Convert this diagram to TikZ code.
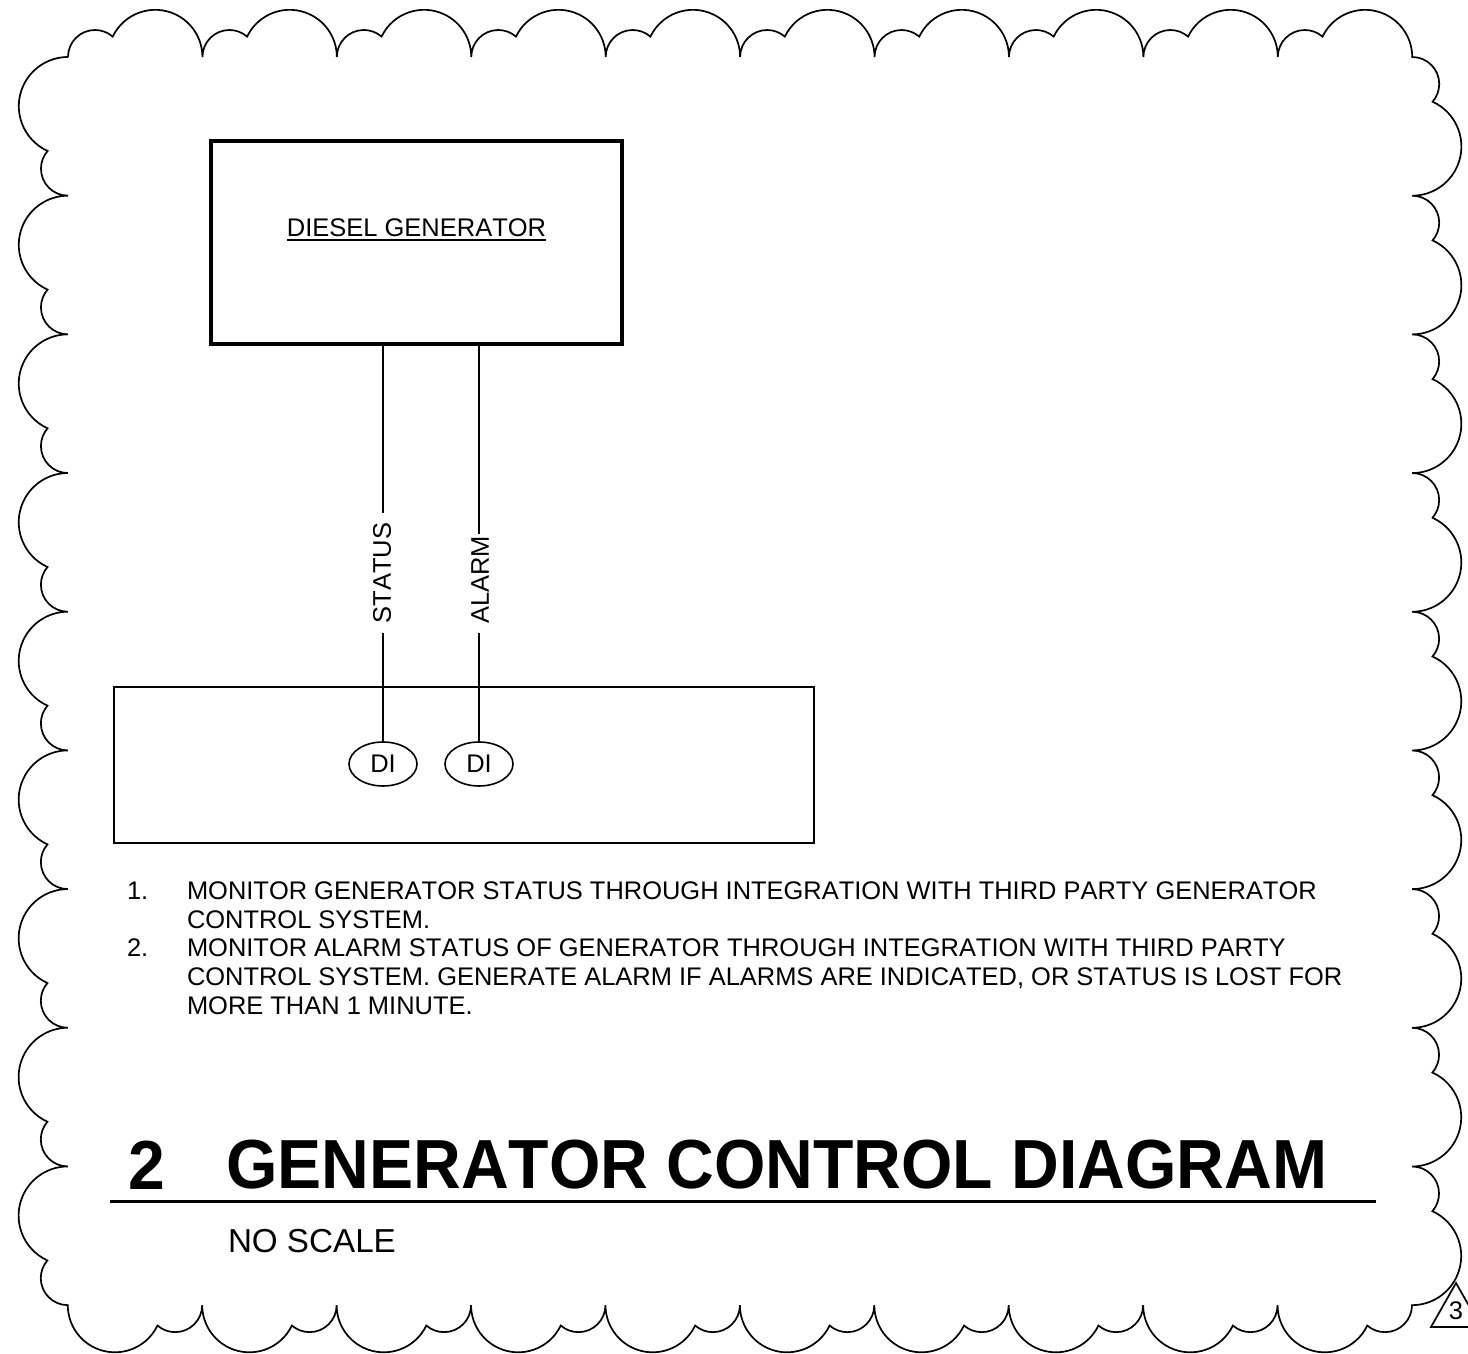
\documentclass[tikz,border=0pt]{standalone}
\usepackage{fontspec}
\setmainfont[Kerning=Off]{Liberation Sans}
\newfontfamily\titlefont[Kerning=Off,FakeStretch=0.951,BoldFont={Liberation Sans Bold}]{Liberation Sans}
\usetikzlibrary{shapes.geometric}
\tikzset{
  x=1pt,y=1pt,
  every node/.style={inner sep=0pt,outer sep=0pt},
  cloudline/.style={line width=1.7pt,line join=miter,black},
  wire/.style={line width=1.6pt,black},
  heavybox/.style={draw,line width=3.9pt,minimum width=411pt,minimum height=203pt,anchor=north west},
  lightbox/.style={draw,line width=1.6pt,minimum width=700pt,minimum height=156pt,anchor=north west},
  dipoint/.style={ellipse,draw,line width=1.6pt,minimum width=68pt,minimum height=44pt,font=\fontsize{25.5}{28}\selectfont},
  labeltext/.style={font=\fontsize{25.5}{28}\selectfont},
  notetext/.style={font=\fontsize{25.45}{28.8}\selectfont,align=left,anchor=north west},
  titletext/.style={anchor=base west,font=\titlefont\fontsize{69.5}{72}\selectfont\bfseries},
}
\begin{document}
\begin{tikzpicture}
\useasboundingbox (0,0) rectangle (1468,1353);
\clip (0,0) rectangle (1468,1353);
% revision cloud
\draw[cloudline] (68,1296)
  \foreach \i in {1,...,10}{ arc[start angle=180,end angle=49,radius=27pt] arc[start angle=154.4,end angle=0,radius=47.17pt] }
  \foreach \i in {1,...,9}{ arc[start angle=90,end angle=-41,radius=27pt] arc[start angle=65.5,end angle=-90,radius=49.2pt] }
  \foreach \i in {1,...,10}{ arc[start angle=0,end angle=-131,radius=27pt] arc[start angle=-25.6,end angle=-180,radius=47.17pt] }
  \foreach \i in {1,...,9}{ arc[start angle=-90,end angle=-221,radius=27pt] arc[start angle=-114.5,end angle=-270,radius=49.2pt] };
% boxes
\node[heavybox] (dg) at (211,1212) {};
\node[labeltext] (dgt) at (416.5,1125) {DIESEL GENERATOR};
\draw[line width=1.7pt] ([yshift=-3pt]dgt.south west) -- ([yshift=-3pt]dgt.south east);
\node[lightbox] (plc) at (114,666) {};
\node[dipoint] (di1) at (383,589) {DI};
\node[dipoint] (di2) at (479,589) {DI};
% signal labels
\node[labeltext,rotate=90] (st) at (382,780) {STATUS};
\node[labeltext,rotate=90] (al) at (480,773) {ALARM};
\coordinate (stA) at (383,840);
\coordinate (stB) at (383,720);
\coordinate (alA) at (479,819);
\coordinate (alB) at (479,720);
\draw[wire] (di1.north |- dg.south) -- (stA);
\draw[wire] (stB) -- (di1.north);
\draw[wire] (di2.north |- dg.south) -- (alA);
\draw[wire] (alB) -- (di2.north);
% notes
\node[notetext] (n1) at (127,471.5) {1.};
\node[notetext] (n2) at (127,413.9) {2.};
\node[notetext] (body) at (187,471.5) {MONITOR GENERATOR STATUS THROUGH INTEGRATION WITH THIRD PARTY GENERATOR\\
CONTROL SYSTEM.\\
MONITOR ALARM STATUS OF GENERATOR THROUGH INTEGRATION WITH THIRD PARTY\\
CONTROL SYSTEM. GENERATE ALARM IF ALARMS ARE INDICATED, OR STATUS IS LOST FOR\\
MORE THAN 1 MINUTE.};
% title block
\node[titletext] (tn) at (128,163) {2};
\node[titletext] (tt) at (226,164) {GENERATOR CONTROL DIAGRAM};
\coordinate (rl) at (110,151);
\coordinate (rr) at (1376,151);
\draw[line width=3pt] (rl) -- (rr);
\node[anchor=base west,font=\fontsize{33.2}{36}\selectfont] (ns) at (228,100) {NO SCALE};
% revision triangle
\coordinate (ta) at (1456,70);
\coordinate (tb) at (1431,26);
\coordinate (tc) at (1481,26);
\draw[line width=1.7pt,line join=miter] (ta) -- (tb) -- (tc) -- cycle;
\node[font=\fontsize{25.5}{28}\selectfont] (rev) at (1456,42) {3};
\end{tikzpicture}
\end{document}
